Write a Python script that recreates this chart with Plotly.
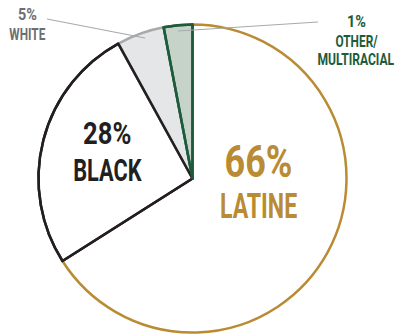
import plotly.graph_objects as go

# Data
categories = ["LATINE", "BLACK", "WHITE", "OTHER/<br>MULTIRACIAL"]
slice_values = [66, 26, 5, 3]          # slice sizes as drawn
label_pcts = ["66%", "28%", "5%", "1%"]  # printed labels

W, H = 395, 334
GOLD = "#b98b33"
BLACK = "#231f20"
GRAYTXT = "#6d6e71"
GREEN = "#1e5b3a"
FONT = "Roboto, sans-serif"

fills = ["#ffffff", "#ffffff", "#e5e6e8", "#c6d3c9"]
lines = [GOLD, BLACK, "#a7a9ac", GREEN]

def px(x):
    return x / W

def py(y):
    return 1 - y / H

cx, cy, r = 192.5, 178.5, 154
dom_x = [px(cx - r), px(cx + r)]
dom_y = [py(cy + r), py(cy - r)]

fig = go.Figure()
fig.add_trace(go.Pie(
    labels=categories, values=slice_values, sort=False, direction="clockwise",
    rotation=0, textinfo="none", hoverinfo="label+value",
    marker=dict(colors=fills, line=dict(color=lines, width=2.5)),
    domain=dict(x=dom_x, y=dom_y), showlegend=False,
))
# outline overlay so black and green edges sit on top
fig.add_trace(go.Pie(
    labels=categories, values=slice_values, sort=False, direction="clockwise",
    rotation=0, textinfo="none", hoverinfo="skip",
    marker=dict(colors=["rgba(0,0,0,0)"] * 4,
                line=dict(color=["rgba(0,0,0,0)", BLACK, "rgba(0,0,0,0)", GREEN], width=2.5)),
    domain=dict(x=dom_x, y=dom_y), showlegend=False,
))

ann = []
scales = []
def add(text, x, y, size, color, sx):
    ann.append(dict(text=text, x=px(x), y=py(y), xref="paper", yref="paper",
                    showarrow=False, xanchor="center", yanchor="middle",
                    font=dict(family=FONT, size=size, color=color)))
    scales.append(sx)

add("<b>" + label_pcts[0] + "</b>", 258, 162, 45, GOLD, 0.80)
add("<b>" + categories[0] + "</b>", 258, 207, 35, GOLD, 0.66)
add("<b>" + label_pcts[1] + "</b>", 107, 133, 32, BLACK, 0.80)
add("<b>" + categories[1] + "</b>", 107, 170, 32, BLACK, 0.68)
add("<b>" + label_pcts[2] + "</b>", 27, 15, 16, GRAYTXT, 0.90)
add("<b>" + categories[2] + "</b>", 27, 34, 16, GRAYTXT, 0.74)
add("<b>" + label_pcts[3] + "</b>", 356, 22, 16, GREEN, 0.90)
add("<b>OTHER/</b>", 356, 41, 16, GREEN, 0.74)
add("<b>MULTIRACIAL</b>", 356, 60, 16, GREEN, 0.755)

shapes = [
    dict(type="line", xref="paper", yref="paper", x0=px(47), y0=py(19), x1=px(145), y1=py(38),
         line=dict(color="#a7a9ac", width=1.2)),
    dict(type="line", xref="paper", yref="paper", x0=px(178), y0=py(31), x1=px(318), y1=py(22),
         line=dict(color="#a7a9ac", width=1.2)),
]

fig.update_layout(
    width=W, height=H, margin=dict(l=0, r=0, t=0, b=0),
    paper_bgcolor="white", plot_bgcolor="white",
    annotations=ann, shapes=shapes,
)

squeeze_js = """
var gd = document.getElementById('{plot_id}');
var sc = %s;
function squeeze(){
  document.querySelectorAll('.annotation-text').forEach(function(t, i){
    t.style.transformBox = 'fill-box';
    t.style.transformOrigin = 'center';
    t.style.transform = 'scaleX(' + (sc[i] || 0.7) + ')';
  });
}
squeeze();
if (gd && gd.on) { gd.on('plotly_afterplot', squeeze); }
setTimeout(squeeze, 50);
""" % str(scales)
fig.write_html("out.html", post_script=squeeze_js)
